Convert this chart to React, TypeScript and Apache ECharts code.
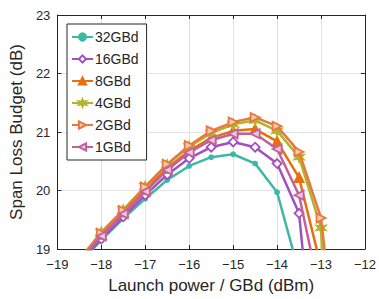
import React, { useEffect, useRef } from "react";
import * as echarts from "echarts";

const launchPower = [-18.5, -18, -17.5, -17, -16.5, -16, -15.5, -15, -14.5, -14, -13.5, -13, -12.5];
const seriesNames = ["32GBd", "16GBd", "8GBd", "4GBd", "2GBd", "1GBd"];
const gbd32 = [18.76, 19.15, 19.52, 19.86, 20.18, 20.42, 20.57, 20.62, 20.46, 19.97, 18.6, 17.0, 15.0];
const gbd16 = [18.77, 19.17, 19.55, 19.92, 20.27, 20.55, 20.74, 20.83, 20.74, 20.46, 19.61, 15.8, 14.0];
const gbd8 = [18.8, 19.25, 19.63, 20.02, 20.38, 20.68, 20.9, 21.02, 21.05, 20.84, 20.22, 18.7, 16.0];
const gbd4 = [18.82, 19.29, 19.67, 20.07, 20.44, 20.75, 20.98, 21.13, 21.2, 21.02, 20.57, 19.36, 10.0];
const gbd2 = [18.81, 19.27, 19.66, 20.06, 20.45, 20.77, 21.02, 21.17, 21.25, 21.1, 20.66, 19.53, 16.2];
const gbd1 = [18.79, 19.22, 19.6, 19.98, 20.35, 20.65, 20.86, 20.97, 20.97, 20.71, 19.92, 18.15, 14.0];
const xTicks = [-19, -18, -17, -16, -15, -14, -13, -12];
const yTicks = [19, 20, 21, 22, 23];

const colors = ["#3db8a6", "#a24fbf", "#e8700a", "#b3b42a", "#e6793f", "#c2609e"];

const STAR =
  "path://M0,-10L2.2,-3.8L8.7,-5L4.4,0L8.7,5L2.2,3.8L0,10L-2.2,3.8L-8.7,5L-4.4,0L-8.7,-5L-2.2,-3.8Z";

const fmt = (v: number) => (v < 0 ? "\u2212" + String(-v) : String(v));

export default function App() {
  const ref = useRef<HTMLDivElement>(null);
  useEffect(() => {
    if (!ref.current) return;
    const chart = echarts.init(ref.current, null, { renderer: "svg" });
    const all = [gbd32, gbd16, gbd8, gbd4, gbd2, gbd1];
    const symbols: any[] = [
      { symbol: "circle", size: 4, rotate: 0, fill: null },
      { symbol: "diamond", size: 9, rotate: 0, fill: "#ffffff" },
      { symbol: "triangle", size: 9, rotate: 0, fill: null },
      { symbol: STAR, size: 9, rotate: 0, fill: null },
      { symbol: "triangle", size: 9, rotate: -90, fill: "#f6c9ad" },
      { symbol: "triangle", size: 9, rotate: 90, fill: "#ecc7dc" },
    ];
    const font = "Liberation Sans, Arial, Helvetica, sans-serif";
    const axisColor = "#262626";
    chart.setOption({
      animation: false,
      textStyle: { fontFamily: font },
      grid: { left: 54, right: 10, top: 15, bottom: 48, containLabel: false },
      legend: {
        orient: "vertical",
        left: 67,
        top: 24,
        width: 76,
        padding: [6, 8, 6, 4],
        itemGap: 8,
        itemWidth: 21,
        itemHeight: 9,
        backgroundColor: "#ffffff",
        borderColor: axisColor,
        borderWidth: 1,
        borderRadius: 0,
        textStyle: { fontSize: 14, color: axisColor, fontFamily: font, padding: [0, 0, 0, -3] },
        data: seriesNames,
      },
      xAxis: [
        {
          type: "value",
          min: -19,
          max: -12,
          interval: 1,
          name: "Launch power / GBd (dBm)",
          nameLocation: "middle",
          nameGap: 28,
          nameTextStyle: { fontSize: 17, color: axisColor, fontFamily: font },
          axisLine: { show: true, lineStyle: { color: axisColor, width: 1 } },
          axisTick: { show: true, inside: true, length: 4, lineStyle: { color: axisColor } },
          axisLabel: {
            fontSize: 13,
            color: axisColor,
            margin: 9,
            formatter: (v: number) => (xTicks.includes(v) ? fmt(v) : ""),
          },
          splitLine: { show: true, lineStyle: { color: "#e3e3e3", width: 1 } },
        },
        {
          type: "value",
          position: "top",
          min: -19,
          max: -12,
          interval: 1,
          axisLine: { show: true, onZero: false, lineStyle: { color: axisColor, width: 1 } },
          axisTick: { show: true, inside: true, length: 4, lineStyle: { color: axisColor } },
          axisLabel: { show: false },
          splitLine: { show: false },
        },
      ],
      yAxis: [
        {
          type: "value",
          min: 19,
          max: 23,
          interval: 1,
          name: "Span Loss Budget (dB)",
          nameLocation: "middle",
          nameGap: 28,
          nameTextStyle: { fontSize: 17, color: axisColor, fontFamily: font },
          axisLine: { show: true, lineStyle: { color: axisColor, width: 1 } },
          axisTick: { show: true, inside: true, length: 4, lineStyle: { color: axisColor } },
          axisLabel: {
            fontSize: 13,
            color: axisColor,
            margin: 7,
            formatter: (v: number) => (yTicks.includes(v) ? fmt(v) : ""),
          },
          splitLine: { show: true, lineStyle: { color: "#e3e3e3", width: 1 } },
        },
        {
          type: "value",
          position: "right",
          min: 19,
          max: 23,
          interval: 1,
          axisLine: { show: true, onZero: false, lineStyle: { color: axisColor, width: 1 } },
          axisTick: { show: true, inside: true, length: 4, lineStyle: { color: axisColor } },
          axisLabel: { show: false },
          splitLine: { show: false },
        },
      ],
      series: seriesNames.map((name, i) => ({
        name,
        type: "line",
        xAxisIndex: 0,
        yAxisIndex: 0,
        clip: true,
        data: launchPower.map((x, j) => [x, all[i][j]]),
        symbol: symbols[i].symbol,
        symbolSize: symbols[i].size,
        symbolRotate: symbols[i].rotate,
        showAllSymbol: true,
        color: colors[i],
        lineStyle: { color: colors[i], width: 2.5 },
        itemStyle: {
          color: symbols[i].fill || colors[i],
          borderColor: colors[i],
          borderWidth: 1.8,
        },
        z: 2 + i,
      })),
    });
    return () => chart.dispose();
  }, []);
  return (
    <div
      ref={ref}
      style={{ position: "fixed", left: 0, top: 0, width: 379, height: 299, background: "#ffffff" }}
    />
  );
}
